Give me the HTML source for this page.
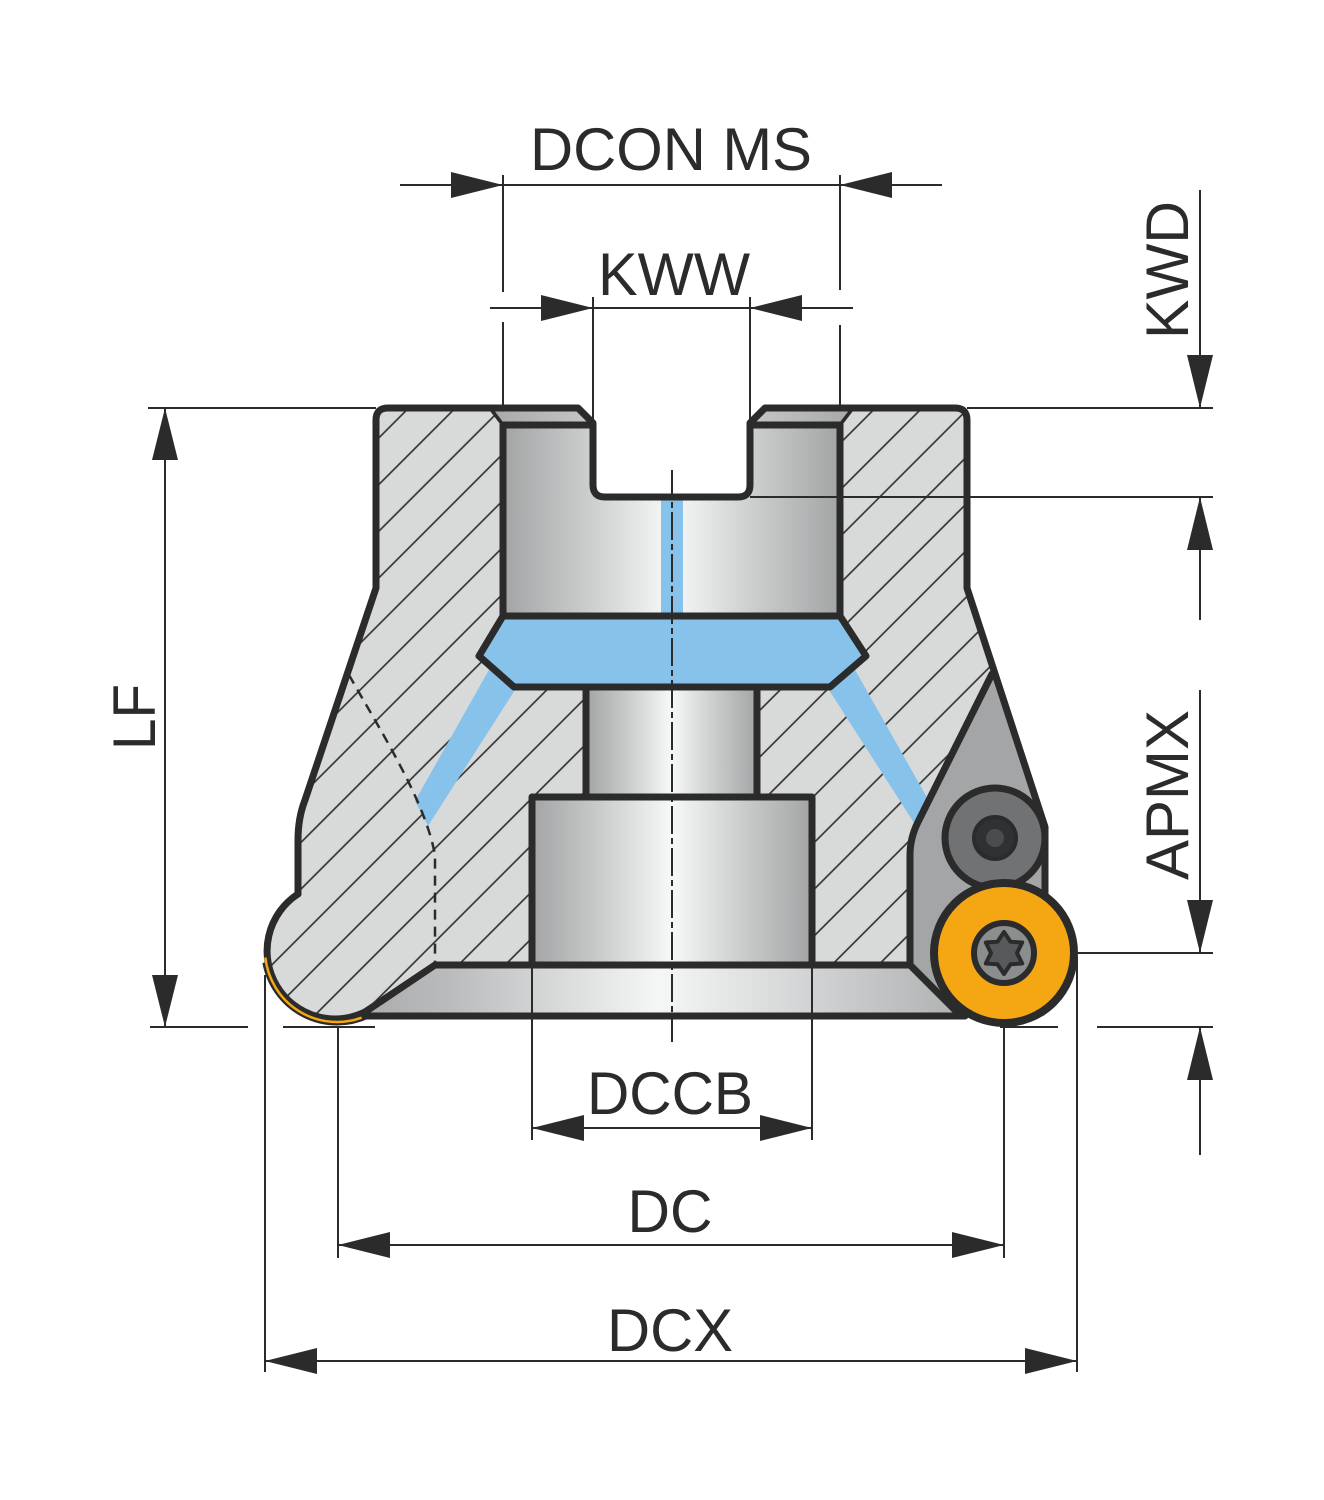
<!DOCTYPE html>
<html>
<head>
<meta charset="utf-8">
<style>
  html,body{margin:0;padding:0;background:#ffffff;}
  svg{display:block;}
  text{font-family:"Liberation Sans", Arial, sans-serif;fill:#2b2b2b;font-size:60px;}
</style>
</head>
<body>
<svg width="1324" height="1500" viewBox="0 0 1324 1500" xmlns="http://www.w3.org/2000/svg">
  <defs>
    <pattern id="hatch" patternUnits="userSpaceOnUse" width="33" height="33" patternTransform="rotate(45)">
      <rect width="33" height="33" fill="#d8dada"/>
      <line x1="16.5" y1="-1" x2="16.5" y2="34" stroke="#2b2b2b" stroke-width="1.6"/>
    </pattern>
    <linearGradient id="metal" x1="0" y1="0" x2="1" y2="0">
      <stop offset="0" stop-color="#a2a4a5"/>
      <stop offset="0.25" stop-color="#cbcdcd"/>
      <stop offset="0.5" stop-color="#f7f8f8"/>
      <stop offset="0.75" stop-color="#cbcdcd"/>
      <stop offset="1" stop-color="#a2a4a5"/>
    </linearGradient>
    <linearGradient id="band" x1="0" y1="0" x2="1" y2="0">
      <stop offset="0" stop-color="#a9abac"/>
      <stop offset="0.15" stop-color="#b9bbbc"/>
      <stop offset="0.5" stop-color="#f5f6f6"/>
      <stop offset="0.85" stop-color="#c4c6c7"/>
      <stop offset="1" stop-color="#b0b2b3"/>
    </linearGradient>
    <linearGradient id="chamL" x1="0" y1="0" x2="1" y2="0">
      <stop offset="0" stop-color="#a6a8a9"/>
      <stop offset="1" stop-color="#c5c7c7"/>
    </linearGradient>
    <linearGradient id="chamR" x1="0" y1="0" x2="1" y2="0">
      <stop offset="0" stop-color="#c5c7c7"/>
      <stop offset="1" stop-color="#a6a8a9"/>
    </linearGradient>
  </defs>

  <!-- hatched body silhouette (with keyway notch cut out) -->
  <path d="M388,408 L578,408 L593,423 L593,485 Q593,497 605,497 L738,497 Q750,497 750,485 L750,423 L765,408 L955,408 Q967,408 967,420 L967,588 L1045,827 L1045,1016 L360,1016 L298,900 L298,840 Q298,818 305,800 L376,588 L376,420 Q376,408 388,408 Z" fill="url(#hatch)"/>
  <circle cx="337" cy="950" r="68" fill="url(#hatch)"/>

  <!-- upper bore -->
  <path d="M503,425 L593,425 L593,485 Q593,497 605,497 L738,497 Q750,497 750,485 L750,425 L840,425 L840,615 L503,615 Z" fill="url(#metal)"/>
  <polygon points="490,408 578,408 593,423 593,425 503,425" fill="url(#chamL)"/>
  <polygon points="765,408 853,408 840,425 750,425 750,423" fill="url(#chamR)"/>

  <!-- pilot bore & counterbore -->
  <rect x="586" y="688" width="171" height="109" fill="url(#metal)"/>
  <rect x="532" y="797" width="280" height="168" fill="url(#metal)"/>

  <!-- bottom band -->
  <polygon points="365,1012 435,965 910,965 957,1012 957,1016 360,1016" fill="url(#band)"/>

  <!-- coolant: center strip -->
  <rect x="661" y="497" width="22" height="120" fill="#87c2ea"/>
  <!-- coolant channels -->
  <polygon points="415,801 490,668 515,690 428,826" fill="#87c2ea"/>
  <polygon points="929,801 854,668 829,690 916,826" fill="#87c2ea"/>
  <!-- coolant ring -->
  <polygon points="503,616 840,616 866,656 830,687 514,687 479,656" fill="#87c2ea" stroke="#2b2b2b" stroke-width="7" stroke-linejoin="round"/>

  <!-- dashed hidden line -->
  <path d="M349,675 C380,730 425,800 435,855 L435,963" fill="none" stroke="#2b2b2b" stroke-width="2.5" stroke-dasharray="10 7"/>

  <!-- pocket/seat -->
  <path d="M992,672 L1045,827 L1045,1000 L957,1012 L910,965 L910,855 Q910,838 918,822 Z" fill="#a3a5a7"/>

  <!-- outlines -->
  <g fill="none" stroke="#2b2b2b" stroke-width="7" stroke-linejoin="round" stroke-linecap="round">
    <path d="M298,894 L298,840 Q298,818 305,800 L376,588 L376,420 Q376,408 388,408 L578,408 L593,423 L593,485 Q593,497 605,497 L738,497 Q750,497 750,485 L750,423 L765,408 L955,408 Q967,408 967,420 L967,588 L1045,827 L1045,895"/>
    <path d="M298,894 A68,68 0 0 0 368,1010.5"/>
    <path d="M365,1012 L435,965 L910,965"/>
    <path d="M356,1016 L965,1016"/>
    <path d="M910,965 L957,1012"/>
    <path d="M992,674 L918,822 Q910,838 910,855 L910,965"/>
    <path d="M503,425 L593,425"/>
    <path d="M750,425 L840,425"/>
    <path d="M503,425 L503,616"/>
    <path d="M840,425 L840,616"/>
    <path d="M586,688 L586,797"/>
    <path d="M757,688 L757,797"/>
    <path d="M532,965 L532,797 L812,797 L812,965"/>
  </g>
  <g stroke="#2b2b2b" stroke-width="3.5" fill="none">
    <path d="M490,408 L503,425"/>
    <path d="M853,408 L840,425"/>
  </g>

  <!-- left insert crescent -->
  <path d="M266.3,962.3 A72,72 0 0 0 367,1015" fill="none" stroke="#2b2b2b" stroke-width="8"/>
  <path d="M265.4,957.5 A72,72 0 0 0 361.6,1017.7" fill="none" stroke="#f4a713" stroke-width="2.5"/>

  <!-- clamp screw -->
  <circle cx="995" cy="838" r="50" fill="#707273" stroke="#2b2b2b" stroke-width="7"/>
  <circle cx="995" cy="838" r="21" fill="#303132" stroke="#2b2b2b" stroke-width="4"/>
  <circle cx="995" cy="838" r="9" fill="#4b4c4d"/>

  <!-- round insert -->
  <circle cx="1004" cy="953" r="70" fill="#f4a713" stroke="#2b2b2b" stroke-width="8"/>
  <circle cx="1004" cy="953" r="30" fill="#8b8d8e" stroke="#2b2b2b" stroke-width="6"/>
  <polygon points="1004,932 1010.5,941.7 1022.2,942.5 1017,953 1022.2,963.5 1010.5,964.3 1004,974 997.5,964.3 985.8,963.5 991,953 985.8,942.5 997.5,941.7" fill="#57595a" stroke="#2b2b2b" stroke-width="4" stroke-linejoin="round"/>

  <!-- centerline -->
  <line x1="672" y1="470" x2="672" y2="1042" stroke="#2b2b2b" stroke-width="2" stroke-dasharray="28 4 6 4"/>

  <!-- dimension/extension lines -->
  <g stroke="#2b2b2b" stroke-width="2" fill="none">
    <line x1="400" y1="185" x2="942" y2="185"/>
    <line x1="503" y1="175" x2="503" y2="292"/>
    <line x1="503" y1="322" x2="503" y2="408"/>
    <line x1="840" y1="175" x2="840" y2="290"/>
    <line x1="840" y1="325" x2="840" y2="408"/>
    <line x1="490" y1="308" x2="853" y2="308"/>
    <line x1="593" y1="297" x2="593" y2="420"/>
    <line x1="750" y1="297" x2="750" y2="420"/>
    <line x1="148" y1="408" x2="376" y2="408"/>
    <line x1="165" y1="408" x2="165" y2="1027"/>
    <line x1="150" y1="1027" x2="248" y2="1027"/>
    <line x1="283" y1="1027" x2="375" y2="1027"/>
    <line x1="1000" y1="1027" x2="1058" y2="1027"/>
    <line x1="967" y1="408" x2="1213" y2="408"/>
    <line x1="750" y1="497" x2="1213" y2="497"/>
    <line x1="1200" y1="190" x2="1200" y2="408"/>
    <line x1="1200" y1="497" x2="1200" y2="620"/>
    <line x1="1078" y1="953" x2="1213" y2="953"/>
    <line x1="1097" y1="1027" x2="1213" y2="1027"/>
    <line x1="1200" y1="690" x2="1200" y2="953"/>
    <line x1="1200" y1="1027" x2="1200" y2="1155"/>
    <line x1="532" y1="965" x2="532" y2="1140"/>
    <line x1="812" y1="965" x2="812" y2="1140"/>
    <line x1="532" y1="1128" x2="812" y2="1128"/>
    <line x1="338" y1="1027" x2="338" y2="1258"/>
    <line x1="1004" y1="1027" x2="1004" y2="1258"/>
    <line x1="338" y1="1245" x2="1004" y2="1245"/>
    <line x1="265" y1="975" x2="265" y2="1372"/>
    <line x1="1077" y1="957" x2="1077" y2="1372"/>
    <line x1="265" y1="1361" x2="1077" y2="1361"/>
  </g>

  <!-- arrowheads -->
  <g fill="#2b2b2b">
    <polygon points="503,185 451,172 451,198"/>
    <polygon points="840,185 892,172 892,198"/>
    <polygon points="593,308 541,295 541,321"/>
    <polygon points="750,308 802,295 802,321"/>
    <polygon points="532,1128 584,1115 584,1141"/>
    <polygon points="812,1128 760,1115 760,1141"/>
    <polygon points="338,1245 390,1232 390,1258"/>
    <polygon points="1004,1245 952,1232 952,1258"/>
    <polygon points="265,1361 317,1348 317,1374"/>
    <polygon points="1077,1361 1025,1348 1025,1374"/>
    <polygon points="165,408 152,460 178,460"/>
    <polygon points="165,1027 152,975 178,975"/>
    <polygon points="1200,408 1187,355 1213,355"/>
    <polygon points="1200,497 1187,550 1213,550"/>
    <polygon points="1200,953 1187,900 1213,900"/>
    <polygon points="1200,1027 1187,1080 1213,1080"/>
  </g>

  <!-- labels -->
  <text x="671" y="170" text-anchor="middle" textLength="282" lengthAdjust="spacingAndGlyphs">DCON MS</text>
  <text x="674" y="295" text-anchor="middle" textLength="152" lengthAdjust="spacingAndGlyphs">KWW</text>
  <text x="670" y="1114" text-anchor="middle" textLength="166" lengthAdjust="spacingAndGlyphs">DCCB</text>
  <text x="670" y="1232" text-anchor="middle" textLength="85" lengthAdjust="spacingAndGlyphs">DC</text>
  <text x="670" y="1351" text-anchor="middle" textLength="126" lengthAdjust="spacingAndGlyphs">DCX</text>
  <text x="0" y="0" text-anchor="middle" transform="translate(155,717) rotate(-90)" textLength="66" lengthAdjust="spacingAndGlyphs">LF</text>
  <text x="0" y="0" text-anchor="middle" transform="translate(1188,270) rotate(-90)" textLength="138" lengthAdjust="spacingAndGlyphs">KWD</text>
  <text x="0" y="0" text-anchor="middle" transform="translate(1188,795) rotate(-90)" textLength="170" lengthAdjust="spacingAndGlyphs">APMX</text>
</svg>
</body>
</html>
